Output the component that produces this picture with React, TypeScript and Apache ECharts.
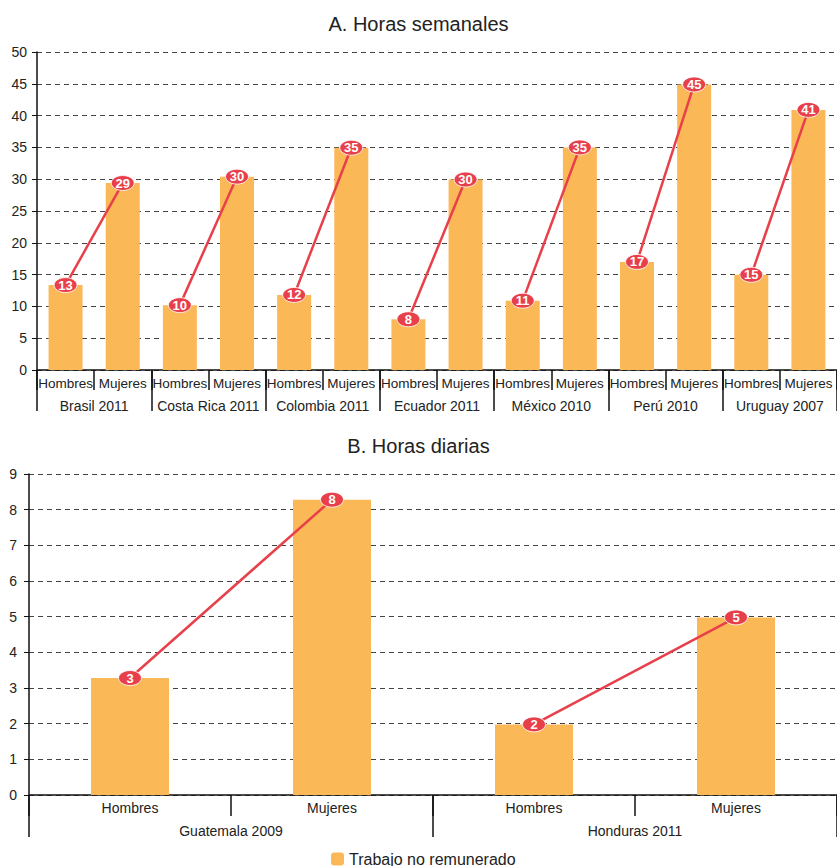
import React, { useEffect, useRef } from "react";
import * as echarts from "echarts";

const topSexCategories = [
  "Hombres", "Mujeres", "Hombres", "Mujeres", "Hombres", "Mujeres", "Hombres",
  "Mujeres", "Hombres", "Mujeres", "Hombres", "Mujeres", "Hombres", "Mujeres",
];
const topGroups = [
  "Brasil 2011", "Costa Rica 2011", "Colombia 2011", "Ecuador 2011",
  "México 2010", "Perú 2010", "Uruguay 2007",
];
const topValues = [13.35, 29.4, 10.2, 30.4, 11.8, 34.95, 7.98, 29.95, 10.9, 35.0, 17.0, 44.9, 14.97, 40.9];

const bottomSexCategories = ["Hombres", "Mujeres", "Hombres", "Mujeres"];
const bottomGroups = ["Guatemala 2009", "Honduras 2011"];
const bottomValues = [3.28, 8.28, 1.98, 4.98];

const topYTicks = { min: 0, max: 50, interval: 5 };
const bottomYTicks = { min: 0, max: 9, interval: 1 };

const seriesName = "Trabajo no remunerado";

const BAR_COLOR = "#FBB857";
const LINE_COLOR = "#E8404A";
const FONT = "Liberation Sans, Arial, sans-serif";

function pairSeries(values: number[], xAxisIndex: number, yAxisIndex: number) {
  const out: any[] = [];
  for (let p = 0; p < values.length / 2; p++) {
    const data = values.map((v, i) => (i === 2 * p || i === 2 * p + 1 ? v : "-"));
    out.push({
      type: "line",
      name: "pair" + xAxisIndex + "_" + p,
      xAxisIndex,
      yAxisIndex,
      data,
      z: 5,
      lineStyle: { color: LINE_COLOR, width: 2.5 },
      itemStyle: { color: LINE_COLOR, borderColor: "#fff", borderWidth: 0.8 },
      symbol: "circle",
      symbolSize: [23, 15],
      showAllSymbol: true,
      label: {
        show: true,
        position: "inside",
        color: "#fff",
        fontWeight: "bold",
        fontSize: 13,
        fontFamily: FONT,
        formatter: (prm: any) => String(Math.round(prm.value)),
      },
      emphasis: { disabled: true },
    });
  }
  return out;
}

const axisLineStyle = { color: "#111", width: 1.5 };
const labelStyle = { color: "#222", fontSize: 14, fontFamily: FONT };

export default function App() {
  const ref = useRef<HTMLDivElement>(null);
  useEffect(() => {
    if (!ref.current) return;
    const chart = echarts.init(ref.current, null, { renderer: "svg" });
    chart.setOption({
      animation: false,
      backgroundColor: "#fff",
      textStyle: { fontFamily: FONT },
      title: [
        {
          text: "A. Horas semanales",
          left: "center",
          top: 9,
          textStyle: { fontSize: 20, fontWeight: "normal", color: "#222", fontFamily: FONT },
        },
        {
          text: "B. Horas diarias",
          left: "center",
          top: 431,
          textStyle: { fontSize: 20, fontWeight: "normal", color: "#222", fontFamily: FONT },
        },
      ],
      legend: {
        data: [seriesName],
        left: 326,
        top: 846,
        itemWidth: 13,
        itemHeight: 13,
        itemGap: 5,
        textStyle: { fontSize: 16, color: "#222", fontFamily: FONT },
        selectedMode: false,
      },
      grid: [
        { left: 37, top: 52, width: 802, height: 318 },
        { left: 29, top: 474, width: 810, height: 321 },
      ],
      xAxis: [
        {
          gridIndex: 0,
          type: "category",
          data: topSexCategories,
          position: "bottom",
          axisLine: { lineStyle: axisLineStyle },
          axisTick: { show: true, length: 20, interval: 0, lineStyle: { color: "#111", width: 1.5 } },
          axisLabel: { ...labelStyle, fontSize: 13.5, interval: 0, margin: 6 },
        },
        {
          gridIndex: 0,
          type: "category",
          data: topGroups,
          position: "bottom",
          offset: 0,
          axisLine: { show: false },
          axisTick: { show: true, length: 41, interval: 0, lineStyle: { color: "#111", width: 1.5 } },
          axisLabel: { ...labelStyle, interval: 0, margin: 29 },
        },
        {
          gridIndex: 1,
          type: "category",
          data: bottomSexCategories,
          position: "bottom",
          axisLine: { lineStyle: axisLineStyle },
          axisTick: { show: true, length: 21, interval: 0, lineStyle: { color: "#111", width: 1.5 } },
          axisLabel: { ...labelStyle, interval: 0, margin: 6 },
        },
        {
          gridIndex: 1,
          type: "category",
          data: bottomGroups,
          position: "bottom",
          offset: 0,
          axisLine: { show: false },
          axisTick: { show: true, length: 42, interval: 0, lineStyle: { color: "#111", width: 1.5 } },
          axisLabel: { ...labelStyle, interval: 0, margin: 29 },
        },
      ],
      yAxis: [
        {
          gridIndex: 0,
          type: "value",
          ...topYTicks,
          axisLine: { show: true, lineStyle: axisLineStyle },
          axisTick: { show: true, length: 5, lineStyle: { color: "#111" } },
          axisLabel: { ...labelStyle, margin: 10 },
          splitLine: { lineStyle: { type: [5, 4], color: "#444", width: 1 } },
        },
        {
          gridIndex: 1,
          type: "value",
          ...bottomYTicks,
          axisLine: { show: true, lineStyle: axisLineStyle },
          axisTick: { show: true, length: 5, lineStyle: { color: "#111" } },
          axisLabel: { ...labelStyle, margin: 12 },
          splitLine: { lineStyle: { type: [5, 4], color: "#444", width: 1 } },
        },
      ],
      series: [
        {
          type: "bar",
          name: seriesName,
          xAxisIndex: 0,
          yAxisIndex: 0,
          data: topValues,
          barWidth: 34,
          itemStyle: { color: BAR_COLOR },
          z: 2,
        },
        {
          type: "bar",
          name: seriesName,
          xAxisIndex: 2,
          yAxisIndex: 1,
          data: bottomValues,
          barWidth: 78,
          itemStyle: { color: BAR_COLOR },
          z: 2,
        },
        ...pairSeries(topValues, 0, 0),
        ...pairSeries(bottomValues, 2, 1),
      ],
    });
    return () => chart.dispose();
  }, []);
  return (
    <div
      ref={ref}
      style={{ position: "fixed", left: 0, top: 0, width: 837, height: 866 }}
    />
  );
}
